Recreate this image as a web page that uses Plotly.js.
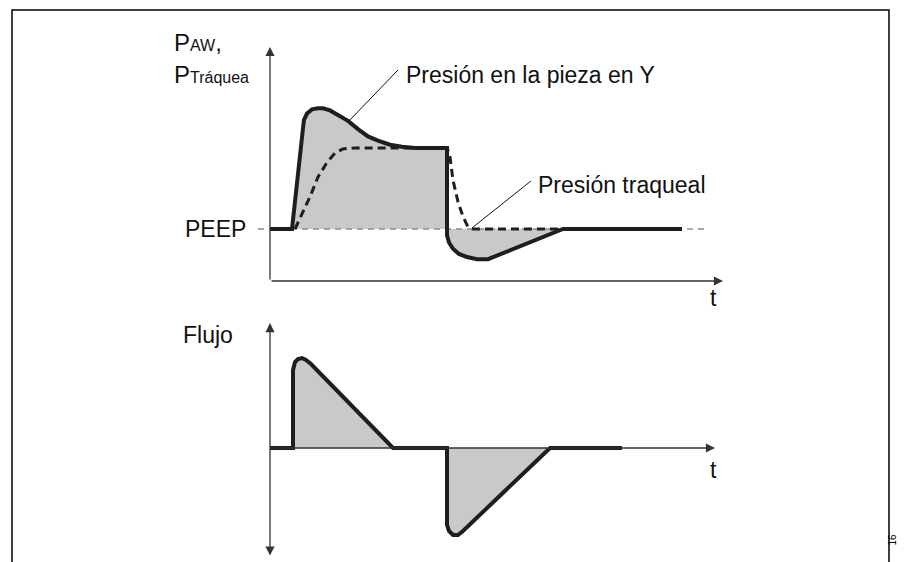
<!DOCTYPE html>
<html>
<head>
<meta charset="utf-8">
<script src="https://cdn.plot.ly/plotly-3.0.1.min.js"></script>
<style>
  body { margin: 0; background: #fff; }
  #grafico { width: 907px; height: 562px; }
</style>
</head>
<body>
<div id="grafico"></div>
<script>
// Presion en la pieza en Y (linea continua)
const tiempoPresion = [0, 0.22, 0.33, 0.34, 0.37, 0.42, 0.48, 0.53, 0.60, 0.68, 0.78, 0.88, 0.98, 1.08, 1.20, 1.32, 1.45, 1.77, 1.77, 1.79, 1.83, 1.89, 1.97, 2.07, 2.18, 2.93, 4.12];
const presionY = [5, 5, 14.7, 15.5, 16.1, 16.5, 16.6, 16.6, 16.4, 16.0, 15.4, 14.6, 13.9, 13.5, 13.1, 12.9, 12.8, 12.8, 4.4, 3.7, 3.1, 2.6, 2.3, 2.1, 2.1, 5, 5];

// Presion traqueal (linea discontinua)
const tiempoTraquea = [0.25, 0.33, 0.40, 0.48, 0.57, 0.65, 0.73, 0.85, 1.77, 1.78, 1.80, 1.83, 1.88, 1.93, 1.98, 2.03, 2.93];
const presionTraquea = [5, 6.6, 8.1, 10.0, 11.4, 12.3, 12.7, 12.8, 12.8, 12.6, 11.9, 9.7, 7.6, 6.2, 5.2, 5, 5];

// PEEP
const peep = 5;
const tiempoPeep = [-0.12, 4.38];

// Flujo
const tiempoFlujo = [0, 0.23, 0.23, 0.25, 0.28, 0.32, 0.36, 0.41, 1.23, 1.77, 1.77, 1.79, 1.83, 1.88, 1.93, 2.80, 3.52];
const flujo = [0, 0, 52, 57.3, 59.3, 60, 58.7, 56, 0, 0, -51.3, -55.3, -58, -58, -55.3, 0, 0];

// Ejes (extremos de las flechas)
const ejeTiempoArriba = 4.53;
const ejePresionMax = 22.5;
const ejeTiempoAbajo = 4.45;
const ejeFlujo = [-72.7, 83.3];

const negro = "#1e1e1e";
const gris = "#c8c9cb";
const fuente = "Liberation Sans, Arial, sans-serif";

const datos = [
  {
    x: tiempoPeep,
    y: tiempoPeep.map(() => peep),
    mode: "lines",
    line: { color: "#8c8c8c", width: 1.4, dash: "6px,5px" },
    hoverinfo: "skip"
  },
  {
    x: tiempoPresion,
    y: presionY,
    mode: "lines",
    fill: "tonexty",
    fillcolor: gris,
    line: { color: negro, width: 4 },
    hoverinfo: "skip"
  },
  {
    x: tiempoTraquea,
    y: presionTraquea,
    mode: "lines",
    line: { color: negro, width: 3, dash: "8px,5px" },
    hoverinfo: "skip"
  },
  {
    x: tiempoFlujo,
    y: flujo,
    yaxis: "y2",
    mode: "lines",
    fill: "tozeroy",
    fillcolor: gris,
    line: { color: negro, width: 4 },
    hoverinfo: "skip"
  }
];

const flecha = (x, y, ax, ay, yref, extra) => Object.assign({
  x: x, y: y, ax: ax, ay: ay,
  xref: "x", yref: yref, axref: "x", ayref: yref,
  text: "", showarrow: true,
  arrowhead: 2, arrowsize: 1.4, arrowwidth: 1.3, arrowcolor: "#333"
}, extra || {});

const texto = (x, y, t, size, extra) => Object.assign({
  x: x, y: y, xref: "x", yref: "y", text: t, showarrow: false,
  xanchor: "left", yanchor: "middle",
  font: { family: fuente, size: size, color: "#111" }
}, extra || {});

const diseño = {
  width: 907,
  height: 562,
  margin: { l: 0, r: 0, t: 0, b: 0 },
  paper_bgcolor: "#fff",
  plot_bgcolor: "#fff",
  showlegend: false,
  font: { family: fuente },
  xaxis: { range: [-2.70, 6.37], visible: false, fixedrange: true },
  yaxis: { range: [-27.019, 27.019], visible: false, fixedrange: true },
  yaxis2: { range: [-76, 298.667], overlaying: "y", visible: false, fixedrange: true },
  shapes: [
    // marco
    {
      type: "path", xref: "paper", yref: "paper",
      path: "M 0.01323,0 L 0.01323,0.98221 L 0.98015,0.98221 L 0.98015,0",
      line: { color: "#000", width: 1.5 }
    },
    // lineas de referencia de las etiquetas
    { type: "line", xref: "x", yref: "y", x0: 1.28, y0: 20.29, x1: 0.78, y1: 15.29, line: { color: "#111", width: 1 } },
    { type: "line", xref: "x", yref: "y", x0: 2.61, y0: 9.62, x1: 2.02, y1: 5.1, line: { color: "#111", width: 1 } }
  ],
  annotations: [
    flecha(ejeTiempoArriba, 0, 0, 0, "y"),
    flecha(0, ejePresionMax, 0, 0, "y"),
    flecha(ejeTiempoAbajo, 0, 0, 0, "y2"),
    flecha(0, ejeFlujo[1], 0, ejeFlujo[0], "y2", { arrowside: "end+start" }),
    texto(1.34, 19.8, "Presión en la pieza en Y", 23),
    texto(2.66, 9.23, "Presión traqueal", 23),
    texto(-0.22, peep, "PEEP", 23, { xanchor: "right" }),
    texto(4.43, -1.6, "t", 23, { xanchor: "center" }),
    texto(-0.98, 22.9, "P<span style=\"font-size:16px\">AW</span>,", 24),
    texto(-0.98, 19.9, "P<span style=\"font-size:16px\">Tráquea</span>", 24),
    texto(-0.89, 75.3, "Flujo", 23, { yref: "y2" }),
    texto(4.43, -14.7, "t", 23, { xanchor: "center", yref: "y2" }),
    {
      x: 899 / 907, y: 1 - 548 / 562, xref: "paper", yref: "paper",
      text: "16", showarrow: false, textangle: -90,
      font: { family: fuente, size: 10, color: "#000" }
    }
  ]
};

Plotly.newPlot("grafico", datos, diseño, { staticPlot: true });
</script>
</body>
</html>
